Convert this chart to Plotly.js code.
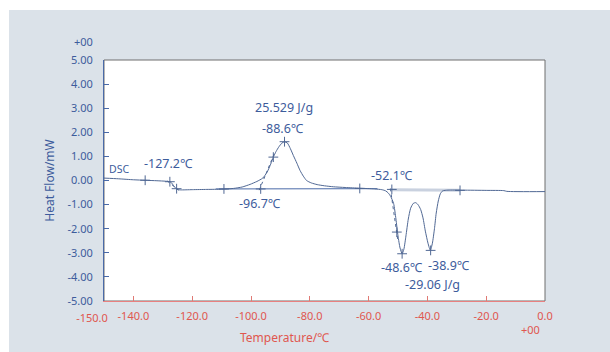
<!DOCTYPE html>
<html>
<head>
<meta charset="utf-8">
<script src="https://cdn.plot.ly/plotly-3.0.1.min.js"></script>
<style>
html,body{margin:0;padding:0;background:#ffffff;width:610px;height:352px;overflow:hidden;}
#chart{position:absolute;left:9px;top:10px;width:601px;height:342px;}
</style>
</head>
<body>
<div id="chart"></div>
<script>
// DSC curve: temperature (°C) vs heat flow (mW)
const tempC = [-150,-145,-140,-136,-132,-129,-127.6,-127.0,-126.3,-125.5,-124.8,-124,-120,-115,-110,-106,-103,-100.3,-98,-96,-94.5,-93.3,-92.4,-91.5,-90.5,-89.5,-88.6,-87.6,-86.6,-85.6,-84.4,-83.3,-82.2,-81.1,-79.5,-77.5,-75,-72,-68,-63,-58,-55.5,-54.2,-53.3,-52.5,-51.5,-50.7,-50,-49.3,-48.6,-48,-47.3,-46.5,-45.7,-44.8,-44.0,-43.2,-42.3,-41.5,-40.7,-39.8,-39.0,-38.3,-37.6,-37,-36.3,-35.6,-34.8,-33,-28,-20,-14,-13,0];
const heatFlow = [0.10,0.07,0.03,0.01,-0.01,-0.03,-0.05,-0.10,-0.22,-0.33,-0.38,-0.39,-0.38,-0.37,-0.36,-0.33,-0.27,-0.16,-0.04,0.10,0.35,0.68,0.97,1.20,1.40,1.55,1.61,1.55,1.32,1.04,0.72,0.41,0.18,0.00,-0.10,-0.17,-0.22,-0.26,-0.29,-0.32,-0.35,-0.38,-0.43,-0.52,-0.66,-0.95,-1.6,-2.3,-2.8,-3.04,-2.85,-2.3,-1.6,-1.15,-0.95,-0.92,-1.0,-1.2,-1.55,-2.1,-2.6,-2.9,-2.6,-2.0,-1.35,-0.85,-0.55,-0.43,-0.40,-0.40,-0.41,-0.42,-0.45,-0.46];

// analysis points ("+" marks)
const markT  = [-136,-127.6,-125.3,-109.2,-96.7,-92.4,-88.6,-63,-52.1,-50.4,-48.6,-38.9,-28.9];
const markHF = [0.01,-0.05,-0.34,-0.35,-0.35,0.97,1.61,-0.33,-0.37,-2.14,-3.04,-2.9,-0.41];

// baselines and tangents
const exoBaseT = [-112,-57];
const exoBaseHF = [-0.35,-0.34];
const endoBaseT = [-52.1,-28.9];
const endoBaseHF = [-0.38,-0.40];
const exoTanT = [-97.2,-91.8];
const exoTanHF = [-0.40,1.20];
const endoTanT = [-52.6,-50.1];
const endoTanHF = [-0.33,-2.45];
const stepTanT = [-128.5,-124.6];
const stepTanHF = [-0.02,-0.40];

// tick labels
const xTickVals = [-140,-120,-100,-80,-60,-40,-20,0];
const xTickText = ['-140.0','-120.0','-100.0','-80.0','-60.0','-40.0','-20.0','0.0'];
const xFirstVal = [-150];
const xFirstText = ['-150.0'];
const yTickVals = [-5,-4,-3,-2,-1,0,1,2,3,4,5];
const yTickText = ['-5.00','-4.00','-3.00','-2.00','-1.00','0.00','1.00','2.00','3.00','4.00','5.00'];

// labels on the curve
const labelText = ['DSC','-127.2℃','25.529 J/g','-88.6℃','-96.7℃','-52.1℃','-48.6℃','-38.9℃','-29.06 J/g'];
const labelT    = [-145.0,-128.0,-88.7,-89.2,-96.9,-52.2,-48.5,-32.5,-38.3];
const labelHF   = [0.46,0.72,3.02,2.14,-0.97,0.22,-3.62,-3.53,-4.33];

const curveColor = '#506894';
const blue = '#3d5c9c';
const red = '#e0574f';
const FONT = '"Noto Sans", "Open Sans", "DejaVu Sans", sans-serif';

const traces = [
  {x: endoBaseT, y: endoBaseHF, mode:'lines', line:{color:'#c9d1df', width:3}, hoverinfo:'skip', showlegend:false},
  {x: exoBaseT, y: exoBaseHF, mode:'lines', line:{color:'#4a6aa8', width:1}, hoverinfo:'skip', showlegend:false},
  {x: exoTanT, y: exoTanHF, mode:'lines', line:{color:curveColor, width:1, dash:'dot'}, hoverinfo:'skip', showlegend:false},
  {x: endoTanT, y: endoTanHF, mode:'lines', line:{color:curveColor, width:1, dash:'dot'}, hoverinfo:'skip', showlegend:false},
  {x: stepTanT, y: stepTanHF, mode:'lines', line:{color:curveColor, width:1, dash:'dot'}, hoverinfo:'skip', showlegend:false},
  {x: tempC, y: heatFlow, mode:'lines', line:{color:curveColor, width:1, shape:'spline', smoothing:0.6}, name:'DSC', showlegend:false},
  {x: markT, y: markHF, mode:'markers', marker:{symbol:'cross-thin', size:7, line:{color:curveColor, width:1}}, hoverinfo:'skip', showlegend:false},
  {x: xFirstVal, y: [null], xaxis:'x2', yaxis:'y', mode:'markers', hoverinfo:'skip', showlegend:false}
];

const annotations = labelText.map((t,i)=>({
  x: labelT[i], y: labelHF[i], xref:'x', yref:'y', text:t, showarrow:false,
  font:{family:FONT, size: i===0 ? 10.5 : 12.5, color: blue}, xanchor:'center', yanchor:'middle'
}));
annotations.push({xref:'paper', yref:'paper', x:-0.047, y:1.075, text:'+00', showarrow:false,
  font:{family:FONT, size:11, color: blue}, xanchor:'center', yanchor:'middle'});
annotations.push({xref:'paper', yref:'paper', x:0.967, y:-0.12, text:'+00', showarrow:false,
  font:{family:FONT, size:11, color: red}, xanchor:'center', yanchor:'middle'});
annotations.push({xref:'paper', yref:'paper', x:0.41, y:-0.15, text:'Temperature/℃', showarrow:false,
  font:{family:FONT, size:12, color: red}, xanchor:'center', yanchor:'middle'});

const layout = {
  width: 601, height: 342,
  margin: {l:95, r:64.5, t:50, b:51},
  paper_bgcolor: '#dbe2e9',
  plot_bgcolor: '#ffffff',
  font: {family: FONT},
  showlegend: false,
  xaxis: {
    range: [-150, 0], tickvals: xTickVals, ticktext: xTickText,
    ticks: 'inside', ticklen: 5, tickcolor: '#e07a74', tickwidth: 1,
    showline: true, linecolor: '#e88080', linewidth: 1,
    showgrid: false, zeroline: false, tickangle: 0,
    tickfont: {family: FONT, size: 11, color: red},
    ticklabelstandoff: 5
  },
  xaxis2: {
    overlaying: 'x', anchor: 'y', side: 'bottom', range: [-150, 0],
    tickvals: xFirstVal, ticktext: xFirstText,
    ticks: '', showline: false, showgrid: false, zeroline: false, tickangle: 0,
    tickfont: {family: FONT, size: 11, color: red},
    ticklabelshift: -12, ticklabelstandoff: 9
  },
  yaxis: {
    range: [-5, 5], tickvals: yTickVals, ticktext: yTickText,
    ticks: 'inside', ticklen: 5, tickcolor: '#4a6aa8', tickwidth: 1,
    showline: true, linecolor: '#4a6aa8', linewidth: 1,
    showgrid: false, zeroline: false,
    tickfont: {family: FONT, size: 11, color: blue},
    ticklabelstandoff: 8,
    title: {text: 'Heat Flow/mW', font: {family: FONT, size: 12, color: blue}, standoff: 10}
  },
  shapes: [
    {type:'rect', xref:'paper', yref:'paper', x0:0, x1:1, y0:0, y1:1, line:{color:'#6e6e6e', width:1}, layer:'below'}
  ],
  annotations: annotations
};

Plotly.newPlot('chart', traces, layout, {staticPlot: true, displayModeBar: false});
</script>
</body>
</html>
